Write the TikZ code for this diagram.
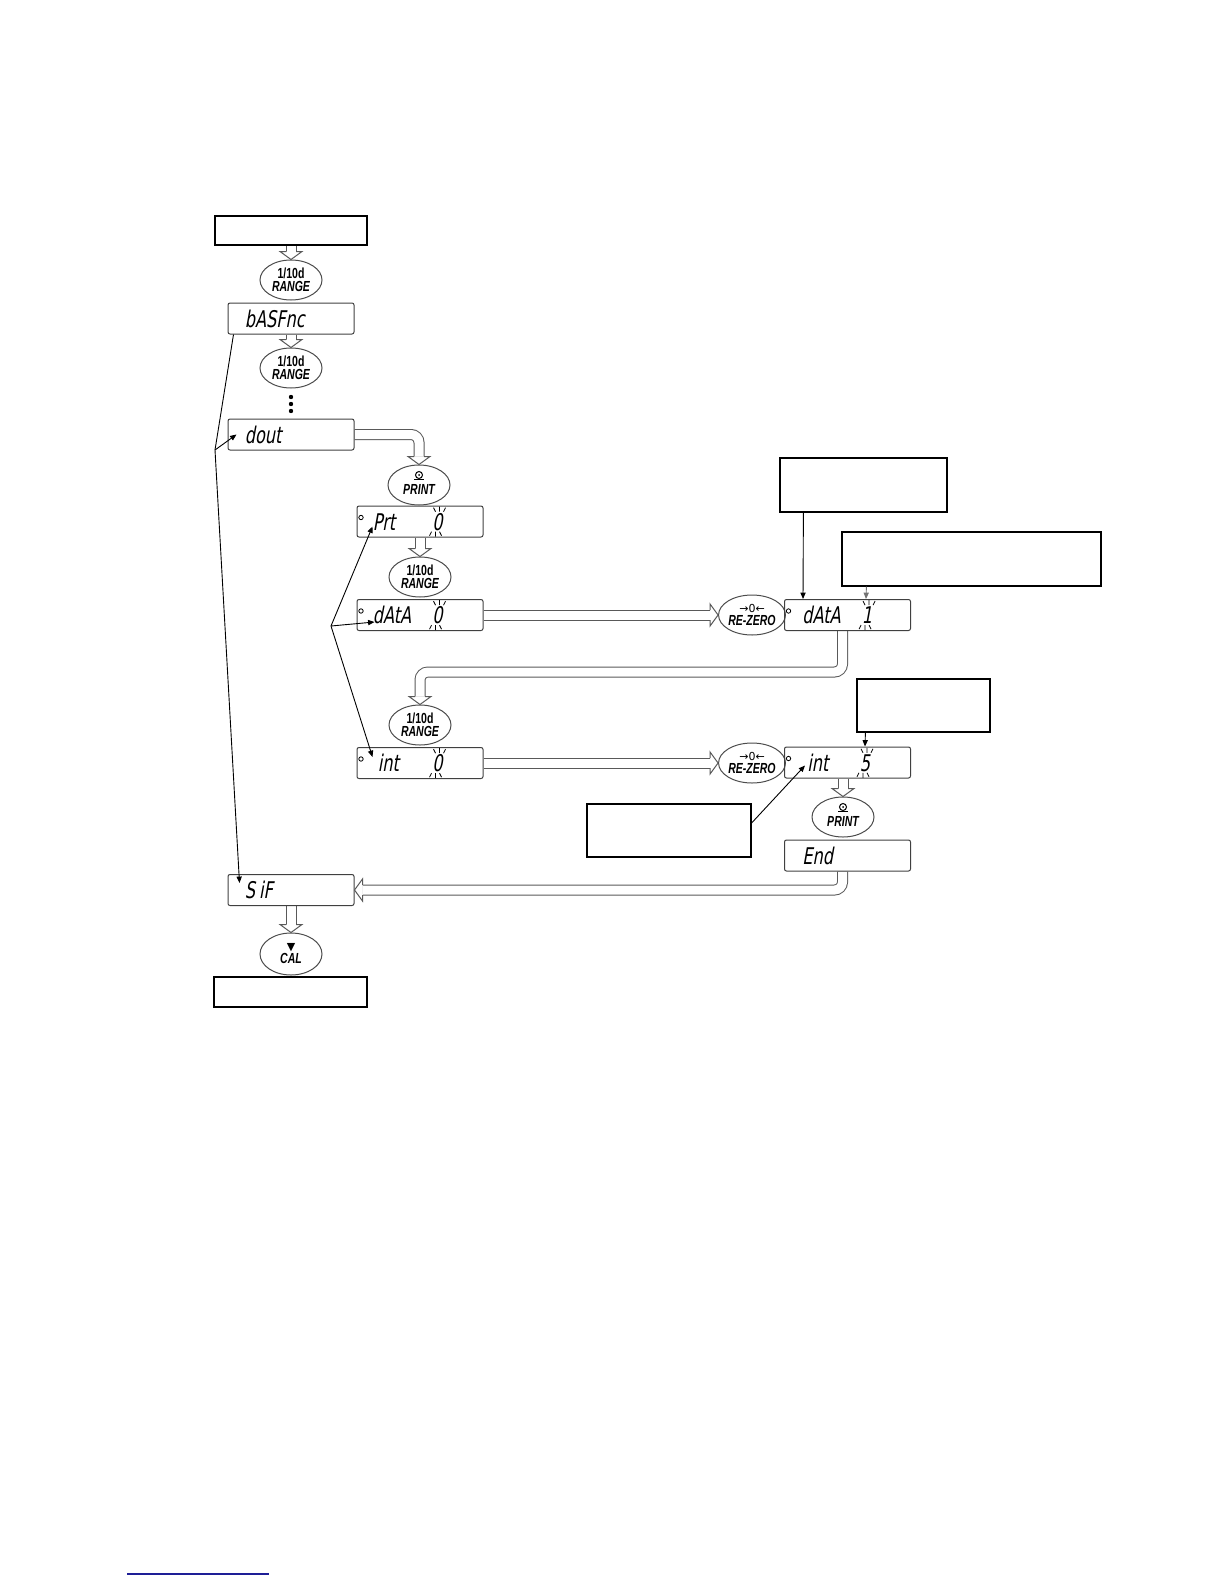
\documentclass[tikz,border=0pt]{standalone}
\usepackage{fontspec}
\usetikzlibrary{calc,shapes.geometric,arrows.meta}
\newfontfamily\lcdfont[FakeSlant=0.18,FakeStretch=0.7]{DejaVu Sans}
\newfontfamily\btnfont[FakeStretch=0.72]{Liberation Sans}
\newfontfamily\symfont{DejaVu Sans}
\definecolor{hol}{gray}{0.35}
\definecolor{linkblue}{RGB}{30,30,150}
\pgfdeclarelayer{background}
\pgfsetlayers{background,main}
\tikzset{
 lcdbox/.style={draw=black!75, line width=0.5pt, rounded corners=1pt, minimum width=63pt, minimum height=15.5pt, inner sep=0pt},
 btn/.style={ellipse, draw=black!70, line width=0.5pt, minimum width=31pt, minimum height=20pt, inner sep=0pt, align=center, font=\btnfont\bfseries\fontsize{7.3pt}{6.5pt}\selectfont},
 btnlbl/.style={inner sep=0pt, font=\btnfont\bfseries\itshape\fontsize{7.3pt}{6.5pt}\selectfont},
 note/.style={draw=black, line width=0.6pt, inner sep=0pt},
 lcdtxt/.style={font=\lcdfont\fontsize{11.5pt}{12pt}\selectfont, inner sep=0pt, anchor=base west},
 lcddig/.style={lcdtxt, anchor=base},
 thin/.style={line width=0.45pt, -{Triangle[length=3.2pt,width=2.6pt]}},
 hshaftout/.style={line width=5.5pt, hol, rounded corners=4pt},
 hshaftin/.style={line width=4.5pt, white, rounded corners=4pt},
 hhead/.style={draw=hol, line width=0.5pt, fill=white, line join=miter},
}
\newcommand\hshaft[1]{\begin{pgfonlayer}{background}\draw[hshaftout] #1; \draw[hshaftin] #1;\end{pgfonlayer}}
\newcommand\headD[1]{\draw[hhead] ($(#1)+(-5,-8)$) -- ($(#1)+(-11,-8)$) -- (#1) -- ($(#1)+(11,-8)$) -- ($(#1)+(5,-8)$);}
\newcommand\headL[1]{\draw[hhead] ($(#1)+(8,-5)$) -- ($(#1)+(8,-11)$) -- (#1) -- ($(#1)+(8,11)$) -- ($(#1)+(8,5)$);}
\newcommand\headR[1]{\draw[hhead] ($(#1)+(-8,-5)$) -- ($(#1)+(-8,-11)$) -- (#1) -- ($(#1)+(-8,11)$) -- ($(#1)+(-8,5)$);}
\newcommand\flash[1]{\begin{scope}[shift={(#1.center)}]
 \draw[line width=0.4pt] (2,-15) -- (2,-10) (-4,-14) -- (-2,-10) (8,-14) -- (6,-10)
   (-2,15) -- (-2,10) (-8,14) -- (-6,10) (4,14) -- (2,10);
 \end{scope}}
\newcommand\ind[1]{\draw[line width=0.4pt] ($(#1.west)+(4.5,-4)$) circle[radius=1.1pt];}
\newcommand\printsym[1]{\draw[line width=0.5pt] ($(#1)+(0,-10)$) circle[radius=1.75pt];
 \fill ($(#1)+(0,-10)$) circle[radius=0.5pt];
 \draw[line width=0.6pt] ($(#1)+(-5,-5.5)$) -- ($(#1)+(5,-5.5)$);}
\begin{document}
\begin{tikzpicture}[x=0.5pt,y=-0.5pt]
\path[use as bounding box] (0,0) rectangle (1224,1584);

% left column
\node[note, minimum width=76pt, minimum height=14.5pt] (start) at (291,230.5) {};
\node[btn] (r1) at (291,280) {1/10d\\\itshape RANGE};
\node[lcdbox] (bas) at (291,318.5) {};
\node[lcdtxt] (bast) at ($(bas.west)+(17,8.5)$) {bASFnc};
\node[btn] (r2) at (291,368) {1/10d\\\itshape RANGE};
\fill (291,397) circle[radius=1.1pt] (291,404) circle[radius=1.1pt] (291,411) circle[radius=1.1pt];
\node[lcdbox] (dout) at (291,434.5) {};
\node[lcdtxt] (doutt) at ($(dout.west)+(17,8.5)$) {dout};

% middle column
\node[btn, minimum height=20pt] (p1) at (419,485) {};
\node[btnlbl] (p1t) at ($(p1)+(0,4)$) {PRINT};
\printsym{p1}
\node[lcdbox] (prt) at (420,521.5) {};
\node[lcdtxt] (prtt) at ($(prt.west)+(16,8.5)$) {Prt};
\node[lcddig] (prtd) at ($(prt.west)+(81,8.5)$) {0};
\node[btn] (r3) at (420,577) {1/10d\\\itshape RANGE};
\node[lcdbox] (dat) at (420,615) {};
\node[lcdtxt] (datt) at ($(dat.west)+(16,8.5)$) {dAtA};
\node[lcddig] (datd) at ($(dat.west)+(81,8.5)$) {0};
\node[btn] (r4) at (420,725) {1/10d\\\itshape RANGE};
\node[lcdbox] (int) at (420,763) {};
\node[lcdtxt] (intt) at ($(int.west)+(21,8.5)$) {int};
\node[lcddig] (intd) at ($(int.west)+(81,8.5)$) {0};

% right column
\node[btn] (z1) at (752,615) {{\symfont\mdseries\upshape\fontsize{5.5pt}{6pt}\selectfont →0←}\\\itshape RE-ZERO};
\node[lcdbox] (dat1) at (847.5,615) {};
\node[lcdtxt] (dat1t) at ($(dat1.west)+(18,8.5)$) {dAtA};
\node[lcddig] (dat1d) at ($(dat1.west)+(83,8.5)$) {1};
\node[note, minimum width=83.5pt, minimum height=27pt] (c1) at (863.5,485) {};
\node[note, minimum width=129.5pt, minimum height=27pt] (c2) at (971.5,559) {};
\node[btn] (z2) at (752,763) {{\symfont\mdseries\upshape\fontsize{5.5pt}{6pt}\selectfont →0←}\\\itshape RE-ZERO};
\node[lcdbox] (int5) at (847.5,762.5) {};
\node[lcdtxt] (int5t) at ($(int5.west)+(23,8.5)$) {int};
\node[lcddig] (int5d) at ($(int5.west)+(81,8.5)$) {5};
\node[note, minimum width=66.5pt, minimum height=26.5pt] (c3) at (923.5,705.5) {};
\node[note, minimum width=82pt, minimum height=26.5pt] (c4) at (669,830.5) {};
\node[btn, minimum height=20pt] (p2) at (843,817) {};
\node[btnlbl] (p2t) at ($(p2)+(0,4)$) {PRINT};
\printsym{p2}
\node[lcdbox] (end) at (847.5,855.5) {};
\node[lcdtxt] (endt) at ($(end.west)+(18,8.5)$) {End};

% bottom
\node[lcdbox] (sif) at (291,890) {};
\node[lcdtxt] (sift) at ($(sif.west)+(17,8.5)$) {S\hspace{2pt}iF};
\node[btn, minimum height=21pt] (cal) at (291,954) {{\symfont\mdseries\upshape\fontsize{5.5pt}{6pt}\selectfont ▼}\\\itshape CAL};
\node[note, minimum width=76.5pt, minimum height=15pt] (stop) at (290.5,992) {};

% indicators and flashing marks
\ind{prt}\ind{dat}\ind{int}\ind{dat1}\ind{int5}
\flash{prtd}\flash{datd}\flash{intd}\flash{dat1d}\flash{int5d}

% hollow arrows
\hshaft{(start.south) -- ($(r1.north)+(0,-8)$)} \headD{r1.north}
\hshaft{(bas.south) -- ($(r2.north)+(0,-8)$)} \headD{r2.north}
\hshaft{(dout.east) -| ($(p1.north)+(0,-8)$)} \headD{p1.north}
\hshaft{(prt.south) -- ($(r3.north)+(0,-8)$)} \headD{r3.north}
\hshaft{(dat.east) -- ($(z1.west)+(-8,0)$)} \headR{z1.west}
\hshaft{($(dat1.south)+(-5,0)$) -- ++(0,41) -| ($(r4.north)+(0,-8)$)} \headD{r4.north}
\hshaft{(int.east) -- ($(z2.west)+(-8,0)$)} \headR{z2.west}
\hshaft{(int5.south -| p2.north) -- ($(p2.north)+(0,-8)$)} \headD{p2.north}
\hshaft{($(end.south)+(-5,0)$) |- ($(sif.east)+(8,0)$)} \headL{sif.east}
\hshaft{(sif.south) -- ($(cal.north)+(0,-8)$)} \headD{cal.north}

% thin pointer arrows
\coordinate (j1) at (215,450);
\coordinate (j2) at (331,626);
\draw[line width=0.45pt] ($(bas.south west)+(6,0)$) -- (j1);
\draw[thin] (j1) -- ($(dout.west)+(9,0)$);
\draw[thin] (j1) -- ($(sif.west)+(12,-7)$);
\draw[thin] (j2) -- ($(prt.west)+(16,5)$);
\draw[thin] (j2) -- ($(dat.west)+(18,7)$);
\draw[thin] (j2) -- ($(int.west)+(16,-6)$);
\draw[thin] ($(c1.south west)+(24,0)$) -- ($(dat1.north west)+(19,0)$);
\draw[thin, black!55] ($(c2.south west)+(25,0)$) -- ($(dat1.north west)+(82,0)$);
\draw[thin] ($(c3.south west)+(9,0)$) -- ($(int5.north west)+(81,0)$);
\draw[thin] ($(c4.east)+(0,-7.5)$) -- ($(int5.west)+(21,3)$);

% bottom link line
\draw[linkblue, line width=0.8pt] (127,1574) -- (269,1574);
\end{tikzpicture}
\end{document}
